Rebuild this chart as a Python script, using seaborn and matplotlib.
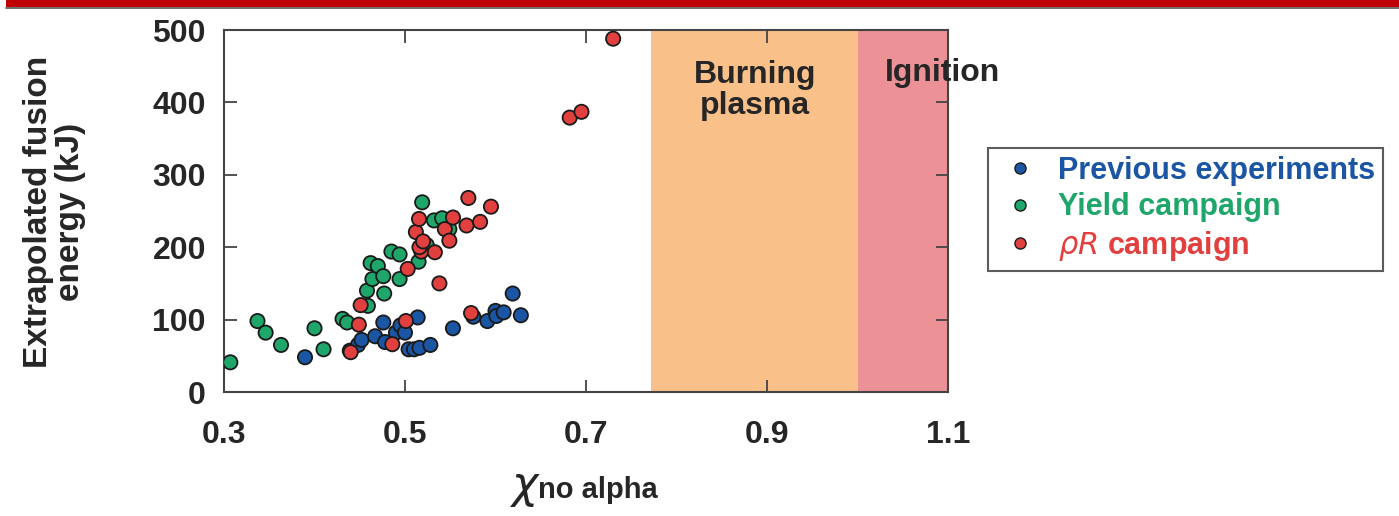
import numpy as np
import pandas as pd
import matplotlib
matplotlib.use("Agg")
import matplotlib.pyplot as plt
import seaborn as sns
from matplotlib.patches import Rectangle
from matplotlib.lines import Line2D

# ---- data ----
prev_x = [0.3895, 0.439, 0.448, 0.452, 0.467, 0.476, 0.478, 0.490, 0.495, 0.500, 0.504, 0.510,
          0.516, 0.528, 0.514, 0.553, 0.5755, 0.591, 0.600, 0.601, 0.609, 0.619, 0.628]
prev_y = [48, 57, 65, 72, 77, 96, 69, 82, 92, 82, 59, 59,
          61, 65, 103, 88, 104, 98, 112, 105, 110, 136, 106]

yield_x = [0.307, 0.337, 0.346, 0.363, 0.400, 0.410, 0.431, 0.436, 0.459, 0.458, 0.464, 0.462,
           0.470, 0.476, 0.477, 0.485, 0.494, 0.494, 0.515, 0.524, 0.519, 0.532, 0.541, 0.549]
yield_y = [41, 98, 82, 65, 88, 59, 101, 96, 119, 140, 156, 178,
           174, 160, 136, 194, 190, 156, 180, 203, 262, 237, 240, 225]

rhor_x = [0.440, 0.449, 0.451, 0.486, 0.501, 0.503, 0.512, 0.5155, 0.518, 0.516, 0.520, 0.533,
          0.538, 0.544, 0.549, 0.553, 0.568, 0.570, 0.573, 0.583, 0.595, 0.682, 0.695, 0.730]
rhor_y = [55, 93, 120, 66, 98, 170, 221, 239, 194, 200, 208, 193,
          150, 225, 209, 241, 230, 268, 109, 235, 256, 379, 387, 488]

series_names = ["Previous experiments", "Yield campaign", r"$\rho R$ campaign"]
series_colors = ["#1a56a3", "#1fa66a", "#e2403f"]
region_names = ["Burning\nplasma", "Ignition"]
region_bounds = [(0.772, 1.0), (1.0, 1.1)]
region_colors = ["#f9c08a", "#ec9296"]
x_ticks = [0.3, 0.5, 0.7, 0.9, 1.1]
y_ticks = [0, 100, 200, 300, 400, 500]

df = pd.concat([
    pd.DataFrame({"x": prev_x, "y": prev_y, "group": series_names[0]}),
    pd.DataFrame({"x": yield_x, "y": yield_y, "group": series_names[1]}),
    pd.DataFrame({"x": rhor_x, "y": rhor_y, "group": series_names[2]}),
], ignore_index=True)

sns.set_style("ticks")
plt.rcParams["font.family"] = ["Liberation Sans", "DejaVu Sans"]
plt.rcParams["mathtext.fontset"] = "dejavusans"

fig = plt.figure(figsize=(13.99, 5.16), dpi=100)
ax = fig.add_axes([224 / 1399, 124 / 516, (948 - 224) / 1399, (392 - 30) / 516])

# header bar
fig.patches.append(Rectangle((0.004, 1 - 7 / 516), 0.996, 7 / 516, transform=fig.transFigure,
                             facecolor="#c00000", edgecolor="none", zorder=0))
fig.add_artist(Line2D([0.004, 1.0], [1 - 8 / 516, 1 - 8 / 516], transform=fig.transFigure,
                      color="#555555", lw=1.2))

for (a, b), c in zip(region_bounds, region_colors):
    ax.axvspan(a, b, color=c, lw=0, zorder=0)

sns.scatterplot(data=df, x="x", y="y", hue="group", palette=series_colors,
                hue_order=series_names, s=105, edgecolor="#1a1a1a", linewidth=1.3,
                ax=ax, zorder=3, legend=False)

ax.set_xlim(0.3, 1.1)
ax.set_ylim(0, 500)
ax.set_xticks(x_ticks)
ax.set_yticks(y_ticks)
ax.set_xticklabels([f"{v:.1f}" for v in x_ticks])
ax.set_yticklabels([str(v) for v in y_ticks])
ax.tick_params(direction="in", length=9, width=1.3, color="#444444",
               labelsize=23, top=True, right=True)
ax.tick_params(axis="x", pad=20)
ax.tick_params(axis="y", pad=13)
for lab in ax.get_xticklabels() + ax.get_yticklabels():
    lab.set_fontweight("bold")
for sp in ax.spines.values():
    sp.set_visible(True)
    sp.set_linewidth(1.5)
    sp.set_color("#444444")

ax.set_xlabel("")
ax.set_ylabel("")
fig.text(0.039, 1 - 212 / 516, "Extrapolated fusion\nenergy (kJ)", rotation=90, ha="center",
         va="center", fontsize=24, fontweight="bold", linespacing=1.05)
fig.text(0.3645, 0.035, r"$\chi$", fontsize=32, ha="left", va="baseline", style="italic",
         family="DejaVu Serif")
fig.text(0.3845, 0.035, "no alpha", fontsize=21, fontweight="bold", ha="left", va="baseline")

ax.text(0.887, 416, region_names[0], ha="center", va="center", fontsize=23, fontweight="bold",
        linespacing=1.05, zorder=4)
ax.text(1.094, 441, region_names[1], ha="center", va="center", fontsize=23, fontweight="bold",
        clip_on=False, zorder=4)

handles = [Line2D([], [], marker="o", ls="", markersize=8, markerfacecolor=c,
                  markeredgecolor="#1a1a1a", markeredgewidth=1.0) for c in series_colors]
leg = fig.legend(handles, series_names, loc="upper left", bbox_to_anchor=(988 / 1399, 1 - 148 / 516),
                 bbox_transform=fig.transFigure, frameon=True, fancybox=False,
                 prop={"size": 22, "weight": "bold"},
                 labelspacing=0.22, handletextpad=0.45, borderpad=0.25, handlelength=1.6,
                 borderaxespad=0)
leg.get_frame().set_edgecolor("#333333")
leg.get_frame().set_linewidth(1.5)
for t, c in zip(leg.get_texts(), series_colors):
    t.set_color(c)

fig.savefig("out.png", dpi=100)
